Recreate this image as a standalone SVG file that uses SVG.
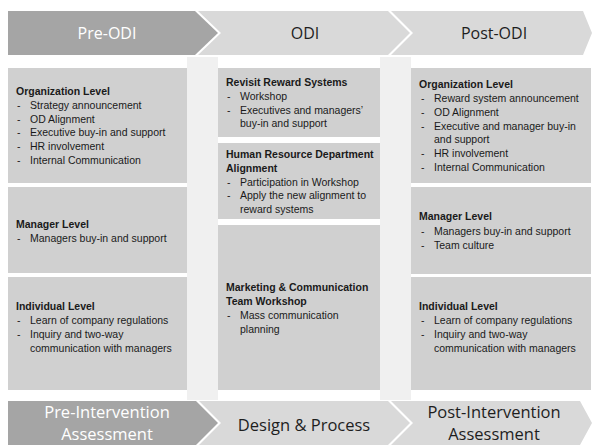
<svg xmlns="http://www.w3.org/2000/svg" width="592" height="446" viewBox="0 0 592 446">
  <style>
    .dark { fill: #a5a5a5; }
    .light { fill: #d9d9d9; }
    .box { fill: #d0d0d0; }
    .strip { fill: #f0f0f0; }
    .phase { font-family: "Open Sans", "Noto Sans", sans-serif; font-size: 16px; text-anchor: middle; }
    .phase2 { font-family: "Open Sans", "Noto Sans", sans-serif; font-size: 16.5px; text-anchor: middle; }
    .onDark { fill: #ffffff; }
    .onLight { fill: #1e1e1e; }
    .t { font-family: "Liberation Sans", Arial, sans-serif; font-size: 10.5px; fill: #1a1a1a; font-weight: bold; }
    .b { font-family: "Liberation Sans", Arial, sans-serif; font-size: 10.5px; fill: #1a1a1a; }
  </style>

  <rect width="592" height="446" fill="#ffffff"/>

  <!-- pale separators between the three columns -->
  <g id="separators">
    <rect class="strip" x="187" y="57" width="31" height="343"/>
    <rect class="strip" x="380" y="57" width="31" height="343"/>
  </g>

  <!-- phase chevrons, top row -->
  <g id="phase-pre-odi">
    <polygon class="dark" points="8,11 195,11 218,33 195,55 8,55"/>
    <text class="phase onDark" x="107" y="39">Pre-ODI</text>
  </g>
  <g id="phase-odi">
    <polygon class="light" points="198,11 388,11 410,33 388,55 198,55 221,33"/>
    <text class="phase onLight" x="305" y="39">ODI</text>
  </g>
  <g id="phase-post-odi">
    <polygon class="light" points="391,11 583,11 592,33 583,55 391,55 413,33"/>
    <text class="phase onLight" x="494" y="39">Post-ODI</text>
  </g>

  <!-- Pre-ODI column -->
  <g id="pre-organization">
    <rect class="box" x="8" y="68" width="179" height="115"/>
    <text class="t" x="16" y="95">Organization Level</text>
    <text class="b" x="17" y="108.8">-</text><text class="b" x="30" y="108.8">Strategy announcement</text>
    <text class="b" x="17" y="122.6">-</text><text class="b" x="30" y="122.6">OD Alignment</text>
    <text class="b" x="17" y="136.4">-</text><text class="b" x="30" y="136.4">Executive buy-in and support</text>
    <text class="b" x="17" y="150.2">-</text><text class="b" x="30" y="150.2">HR involvement</text>
    <text class="b" x="17" y="164">-</text><text class="b" x="30" y="164">Internal Communication</text>
  </g>
  <g id="pre-manager">
    <rect class="box" x="8" y="187" width="179" height="86"/>
    <text class="t" x="16" y="227.5">Manager Level</text>
    <text class="b" x="17" y="241.5">-</text><text class="b" x="30" y="241.5">Managers buy-in and support</text>
  </g>
  <g id="pre-individual">
    <rect class="box" x="8" y="277" width="179" height="113"/>
    <text class="t" x="16" y="310">Individual Level</text>
    <text class="b" x="17" y="324">-</text><text class="b" x="30" y="324">Learn of company regulations</text>
    <text class="b" x="17" y="337.8">-</text><text class="b" x="30" y="337.8">Inquiry and two-way</text>
    <text class="b" x="30" y="351.5">communication with managers</text>
  </g>

  <!-- ODI column -->
  <g id="odi-reward">
    <rect class="box" x="218" y="68" width="162" height="69"/>
    <text class="t" x="226" y="86">Revisit Reward Systems</text>
    <text class="b" x="227" y="100">-</text><text class="b" x="240" y="100">Workshop</text>
    <text class="b" x="227" y="113.5">-</text><text class="b" x="240" y="113.5">Executives and managers’</text>
    <text class="b" x="240" y="127">buy-in and support</text>
  </g>
  <g id="odi-hr">
    <rect class="box" x="218" y="143" width="162" height="76"/>
    <text class="t" x="226" y="157.5">Human Resource Department</text>
    <text class="t" x="226" y="171.5">Alignment</text>
    <text class="b" x="227" y="185.5">-</text><text class="b" x="240" y="185.5">Participation in Workshop</text>
    <text class="b" x="227" y="199">-</text><text class="b" x="240" y="199">Apply the new alignment to</text>
    <text class="b" x="240" y="212.5">reward systems</text>
  </g>
  <g id="odi-marketing">
    <rect class="box" x="218" y="225" width="162" height="165"/>
    <text class="t" x="226" y="291">Marketing &amp; Communication</text>
    <text class="t" x="226" y="305">Team Workshop</text>
    <text class="b" x="227" y="318.5">-</text><text class="b" x="240" y="318.5">Mass communication</text>
    <text class="b" x="240" y="332.5">planning</text>
  </g>

  <!-- Post-ODI column -->
  <g id="post-organization">
    <rect class="box" x="411" y="68" width="180" height="115"/>
    <text class="t" x="419" y="87.5">Organization Level</text>
    <text class="b" x="421" y="101.8">-</text><text class="b" x="434" y="101.8">Reward system announcement</text>
    <text class="b" x="421" y="115.5">-</text><text class="b" x="434" y="115.5">OD Alignment</text>
    <text class="b" x="421" y="129.5">-</text><text class="b" x="434" y="129.5">Executive and manager buy-in</text>
    <text class="b" x="434" y="143.3">and support</text>
    <text class="b" x="421" y="157.2">-</text><text class="b" x="434" y="157.2">HR involvement</text>
    <text class="b" x="421" y="171">-</text><text class="b" x="434" y="171">Internal Communication</text>
  </g>
  <g id="post-manager">
    <rect class="box" x="411" y="187" width="180" height="87"/>
    <text class="t" x="419" y="220">Manager Level</text>
    <text class="b" x="421" y="234.5">-</text><text class="b" x="434" y="234.5">Managers buy-in and support</text>
    <text class="b" x="421" y="248.5">-</text><text class="b" x="434" y="248.5">Team culture</text>
  </g>
  <g id="post-individual">
    <rect class="box" x="411" y="277" width="180" height="113"/>
    <text class="t" x="419" y="310">Individual Level</text>
    <text class="b" x="421" y="324">-</text><text class="b" x="434" y="324">Learn of company regulations</text>
    <text class="b" x="421" y="337.8">-</text><text class="b" x="434" y="337.8">Inquiry and two-way</text>
    <text class="b" x="434" y="351.5">communication with managers</text>
  </g>

  <!-- phase chevrons, bottom row -->
  <g id="phase-pre-assessment">
    <polygon class="dark" points="8,401 196,401 218,423 196,445 8,445"/>
    <text class="phase2 onDark" x="107" y="418">Pre-Intervention</text>
    <text class="phase2 onDark" x="107" y="440">Assessment</text>
  </g>
  <g id="phase-design">
    <polygon class="light" points="199,401 388,401 410,423 388,445 199,445 221,423"/>
    <text class="phase2 onLight" x="304" y="431">Design &amp; Process</text>
  </g>
  <g id="phase-post-assessment">
    <polygon class="light" points="391,401 580,401 592,423 580,445 391,445 413,423"/>
    <text class="phase2 onLight" x="494" y="418">Post-Intervention</text>
    <text class="phase2 onLight" x="494" y="440">Assessment</text>
  </g>
</svg>
